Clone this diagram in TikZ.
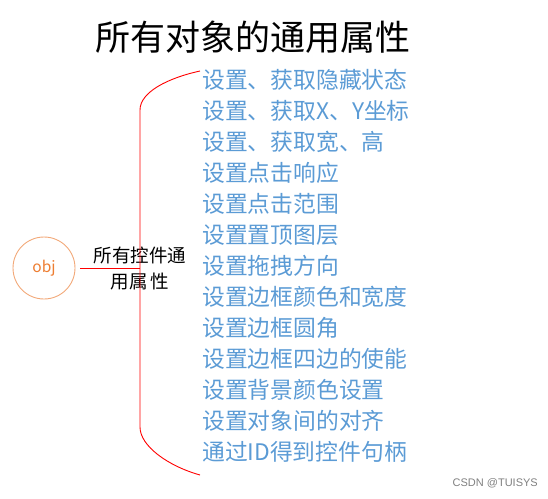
\documentclass[tikz,border=0pt]{standalone}
\usepackage{fontspec}
\usepackage{xcolor}
\newfontfamily\cjk{Noto Sans CJK SC}
\newfontfamily\wmfont{Liberation Sans}
\definecolor{itemblue}{HTML}{5B9BD5}
\definecolor{objorange}{HTML}{ED7D31}
\definecolor{ringorange}{HTML}{F2A878}
\usetikzlibrary{positioning}

\begin{document}
\begin{tikzpicture}[x=1pt,y=-1pt,
   every node/.style={font=\cjk, inner sep=0pt},
   objnode/.style={circle, draw=ringorange, line width=0.9pt, minimum size=62pt, text=objorange, font=\cjk\fontsize{15.5}{18}\selectfont},
   item/.style={anchor=west, text=itemblue, font=\cjk\fontsize{22.8}{26}\selectfont},
   brace/.style={draw=red, line width=0.9pt}]
   \useasboundingbox (0,0) rectangle (548,498);
   \node (title) at (253,37) {\fontsize{35}{40}\selectfont 所有对象的通用属性};
   \node[objnode] (obj) at (44,268) {obj};
   \node[align=center, font=\cjk\fontsize{18.5}{26}\selectfont] (group) at (140,269) {所有控件通\\用属\,性};

   % brace
   \coordinate (bt) at (200,71);
   \coordinate (bm) at (140,268);
   \coordinate (bb) at (200,475);
   \draw[brace] (bt) .. controls (168,78) and (140,92) .. (140,110)
      -- (140,427) .. controls (140,446) and (168,466) .. (bb);
   \draw[brace] (obj.east) ++(5,0) -- (bm);

   \foreach \txt [count=\i from 0] in {设置、获取隐藏状态, 设置、获取X、Y坐标, 设置、获取宽、高,
      设置点击响应, 设置点击范围, 设置置顶图层, 设置拖拽方向, 设置边框颜色和宽度,
      设置边框圆角, 设置边框四边的使能, 设置背景颜色设置, 设置对象间的对齐, 通过ID得到控件句柄}
      \node[item] (item\i) at (202,80+31*\i) {\txt};

   \node[anchor=east, text=gray, font=\wmfont\fontsize{11}{13}\selectfont] (mark) at (538,483) {CSDN @TUISYS};
\end{tikzpicture}
\end{document}
